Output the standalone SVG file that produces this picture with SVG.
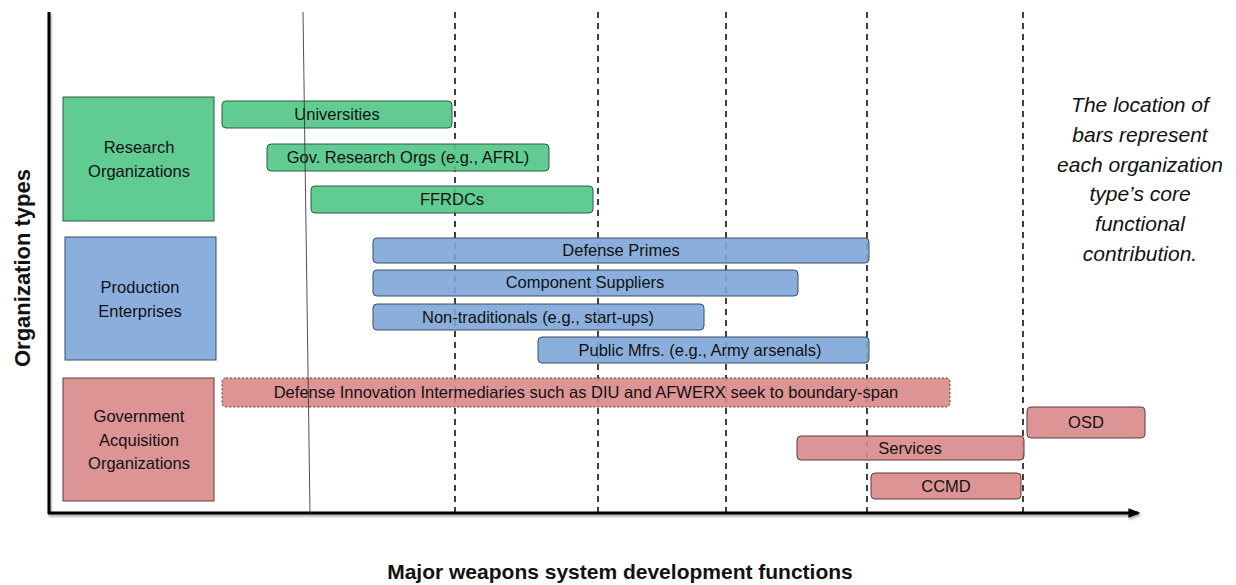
<svg xmlns="http://www.w3.org/2000/svg" width="1236" height="585" viewBox="0 0 1236 585">
  <defs>
    <marker id="arrow" viewBox="0 0 10 10" refX="8" refY="5" markerWidth="4" markerHeight="4" orient="auto" markerUnits="strokeWidth">
      <path d="M0,1 L10,5 L0,9 Z" fill="#000"/>
    </marker>
    <filter id="shadow" x="-5%" y="-5%" width="110%" height="110%">
      <feDropShadow dx="1" dy="2" stdDeviation="1" flood-color="#000" flood-opacity="0.35"/>
    </filter>
  </defs>
  <style>
    text { font-family: "Liberation Sans", "DejaVu Sans", sans-serif; fill: #111; }
    .lbl { font-size: 16.5px; text-anchor: middle; }
    .cat { font-size: 16.5px; text-anchor: middle; }
    .note { font-size: 21px; font-style: italic; text-anchor: middle; }
    .axis-title { font-size: 21px; font-weight: bold; text-anchor: middle; }
    .green { fill: #4fc785; fill-opacity: 0.9; stroke: #2f5a44; stroke-width: 1; }
    .blue { fill: #7ea6d8; fill-opacity: 0.9; stroke: #3b4d63; stroke-width: 1; }
    .red { fill: #d9888a; fill-opacity: 0.9; stroke: #5e3a3b; stroke-width: 1; }
    .dash { stroke: #000; stroke-width: 1.5; stroke-dasharray: 6 5; }
  </style>

  <!-- phase guides -->
  <g id="guides">
    <line class="dash" x1="455" y1="12" x2="455" y2="513"/>
    <line class="dash" x1="598" y1="12" x2="598" y2="513"/>
    <line class="dash" x1="726" y1="12" x2="726" y2="513"/>
    <line class="dash" x1="867" y1="12" x2="867" y2="513"/>
    <line class="dash" x1="1023" y1="12" x2="1023" y2="513"/>
  </g>

  <!-- axes -->
  <g id="connectors" filter="url(#shadow)">
    <line x1="49" y1="12" x2="49" y2="514" stroke="#000" stroke-width="3"/>
    <line x1="48" y1="513" x2="1138" y2="513" stroke="#000" stroke-width="3" marker-end="url(#arrow)"/>
  </g>

  <!-- organization categories -->
  <g id="cat-research">
    <rect class="green" x="63" y="97" width="151" height="124" fill-opacity="1"/>
    <text class="cat" x="139" y="153">Research</text>
    <text class="cat" x="139" y="177">Organizations</text>
  </g>
  <g id="cat-production">
    <rect class="blue" x="65" y="237" width="151" height="123" fill-opacity="1"/>
    <text class="cat" x="140" y="293">Production</text>
    <text class="cat" x="140" y="317">Enterprises</text>
  </g>
  <g id="cat-government">
    <rect class="red" x="63" y="378" width="151" height="123" fill-opacity="1"/>
    <text class="cat" x="139" y="422">Government</text>
    <text class="cat" x="139" y="446">Acquisition</text>
    <text class="cat" x="139" y="469">Organizations</text>
  </g>

  <!-- research bars -->
  <g id="bar-universities">
    <rect class="green" x="222" y="101" width="230" height="27" rx="4"/>
    <text class="lbl" x="337" y="120">Universities</text>
  </g>
  <g id="bar-gov-research">
    <rect class="green" x="267" y="144" width="282" height="27" rx="4"/>
    <text class="lbl" x="408" y="163">Gov. Research Orgs (e.g., AFRL)</text>
  </g>
  <g id="bar-ffrdcs">
    <rect class="green" x="311" y="186" width="282" height="27" rx="4"/>
    <text class="lbl" x="452" y="205">FFRDCs</text>
  </g>

  <!-- production bars -->
  <g id="bar-primes">
    <rect class="blue" x="373" y="238" width="496" height="25" rx="4"/>
    <text class="lbl" x="621" y="256">Defense Primes</text>
  </g>
  <g id="bar-components">
    <rect class="blue" x="373" y="270" width="425" height="26" rx="4"/>
    <text class="lbl" x="585" y="288">Component Suppliers</text>
  </g>
  <g id="bar-nontraditionals">
    <rect class="blue" x="373" y="304" width="331" height="26" rx="4"/>
    <text class="lbl" x="538" y="323">Non-traditionals (e.g., start-ups)</text>
  </g>
  <g id="bar-public-mfrs">
    <rect class="blue" x="538" y="337" width="331" height="26" rx="4"/>
    <text class="lbl" x="700" y="356">Public Mfrs. (e.g., Army arsenals)</text>
  </g>

  <!-- government bars -->
  <g id="bar-intermediaries">
    <rect class="red" x="222" y="378" width="728" height="29" rx="4" stroke-dasharray="2 2"/>
    <text class="lbl" x="586" y="398">Defense Innovation Intermediaries such as DIU and AFWERX seek to boundary-span</text>
  </g>
  <g id="bar-osd">
    <rect class="red" x="1027" y="407" width="118" height="31" rx="4"/>
    <text class="lbl" x="1086" y="428">OSD</text>
  </g>
  <g id="bar-services">
    <rect class="red" x="797" y="436" width="227" height="24" rx="4"/>
    <text class="lbl" x="910" y="454">Services</text>
  </g>
  <g id="bar-ccmd">
    <rect class="red" x="871" y="473" width="150" height="26" rx="4"/>
    <text class="lbl" x="946" y="492">CCMD</text>
  </g>

  <!-- thin reference line drawn across the bars -->
  <line id="baseline-marker" x1="303" y1="12" x2="310" y2="513" stroke="#333" stroke-width="1" stroke-opacity="0.85"/>

  <!-- explanatory note -->
  <g id="note">
    <text class="note" x="1140" y="112">The location of</text>
    <text class="note" x="1140" y="142">bars represent</text>
    <text class="note" x="1140" y="172">each organization</text>
    <text class="note" x="1140" y="201">type’s core</text>
    <text class="note" x="1140" y="231">functional</text>
    <text class="note" x="1140" y="261">contribution.</text>
  </g>

  <!-- axis titles -->
  <text class="axis-title" x="620" y="579">Major weapons system development functions</text>
  <text class="axis-title" transform="translate(30,268) rotate(-90)" style="font-size:22px">Organization types</text>
</svg>
